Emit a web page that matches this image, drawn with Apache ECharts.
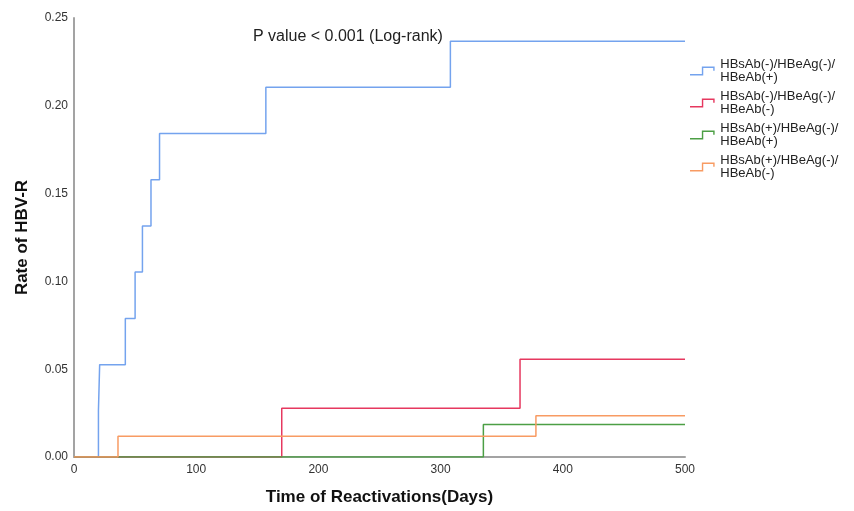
<!DOCTYPE html>
<html>
<head>
<meta charset="utf-8">
<script src="https://cdn.jsdelivr.net/npm/echarts@6/dist/echarts.min.js"></script>
<style>html,body{margin:0;padding:0;background:#fff;}#c{width:854px;height:511px;}</style>
</head>
<body>
<div id="c"></div>
<script>
// Series names
var seriesNames = [
  'HBsAb(-)/HBeAg(-)/\nHBeAb(+)',
  'HBsAb(-)/HBeAg(-)/\nHBeAb(-)',
  'HBsAb(+)/HBeAg(-)/\nHBeAb(+)',
  'HBsAb(+)/HBeAg(-)/\nHBeAb(-)'
];
// Step data: days and cumulative rate
var blueDays = [0, 20, 21, 42, 50, 56, 63, 70, 157, 308, 500];
var blueRate = [0, 0.0263, 0.0526, 0.0789, 0.1053, 0.1316, 0.1579, 0.1842, 0.2105, 0.2368, 0.2368];
var redDays = [0, 170, 365, 500];
var redRate = [0, 0.0278, 0.0556, 0.0556];
var greenDays = [0, 335, 500];
var greenRate = [0, 0.0185, 0.0185];
var orangeDays = [0, 36, 378, 500];
var orangeRate = [0, 0.0118, 0.0235, 0.0235];
var xTicks = [0, 100, 200, 300, 400, 500];
var yTicks = [0, 0.05, 0.10, 0.15, 0.20, 0.25];

var colors = ['#74a3ee', '#e6385f', '#4c9f45', '#f89b63'];

function pairs(xs, ys) { return xs.map(function (x, i) { return [x, ys[i]]; }); }
var allData = [pairs(blueDays, blueRate), pairs(redDays, redRate), pairs(greenDays, greenRate), pairs(orangeDays, orangeRate)];

var stepIcon = 'path://M0,8 L12.5,8 L12.5,0 L26,0 L26,4.5 L24.5,4.5 L24.5,1.5 L14,1.5 L14,9.5 L0,9.5 Z';

var chart = echarts.init(document.getElementById('c'), null, { renderer: 'canvas' });
chart.setOption({
  animation: false,
  backgroundColor: '#fff',
  grid: { left: 74, right: 169, top: 18, bottom: 53 },
  legend: {
    orient: 'vertical',
    left: 685,
    top: 53,
    itemWidth: 26,
    itemHeight: 9,
    itemGap: 6,
    icon: stepIcon,
    itemStyle: { borderWidth: 0 },
    textStyle: { fontFamily: 'Liberation Sans, Arial, sans-serif', fontSize: 13, lineHeight: 13, color: '#222' },
    data: seriesNames
  },
  graphic: [{
    type: 'text', left: 253, top: 29,
    style: { text: 'P value < 0.001 (Log-rank)', fontFamily: 'Liberation Sans, Arial, sans-serif', fontSize: 16, fill: '#222' }
  }],
  xAxis: {
    type: 'value', min: xTicks[0], max: xTicks[xTicks.length - 1], interval: 100,
    name: 'Time of Reactivations(Days)', nameLocation: 'middle', nameGap: 32,
    nameTextStyle: { fontFamily: 'Liberation Sans, Arial, sans-serif', fontSize: 17, fontWeight: 'bold', color: '#111' },
    axisLine: { show: true, onZero: false, lineStyle: { color: '#a3a3a3', width: 2 } },
    axisTick: { show: false },
    splitLine: { show: false },
    axisLabel: { margin: 7, fontFamily: 'Liberation Sans, Arial, sans-serif', fontSize: 12, color: '#333' }
  },
  yAxis: {
    type: 'value', min: yTicks[0], max: yTicks[yTicks.length - 1], interval: 0.05,
    name: 'Rate of HBV-R', nameLocation: 'middle', nameGap: 43,
    nameTextStyle: { fontFamily: 'Liberation Sans, Arial, sans-serif', fontSize: 17, fontWeight: 'bold', color: '#111' },
    axisLine: { show: true, lineStyle: { color: '#a3a3a3', width: 2 } },
    axisTick: { show: false },
    splitLine: { show: false },
    axisLabel: { margin: 6, fontFamily: 'Liberation Sans, Arial, sans-serif', fontSize: 12, color: '#333',
      formatter: function (v) { return v.toFixed(2); } }
  },
  series: allData.map(function (d, i) {
    return {
      name: seriesNames[i], type: 'line', step: 'end', data: d,
      showSymbol: false, symbol: 'none',
      lineStyle: { color: colors[i], width: 1.5 },
      itemStyle: { color: colors[i] },
      emphasis: { disabled: true }
    };
  })
});
</script>
</body>
</html>
